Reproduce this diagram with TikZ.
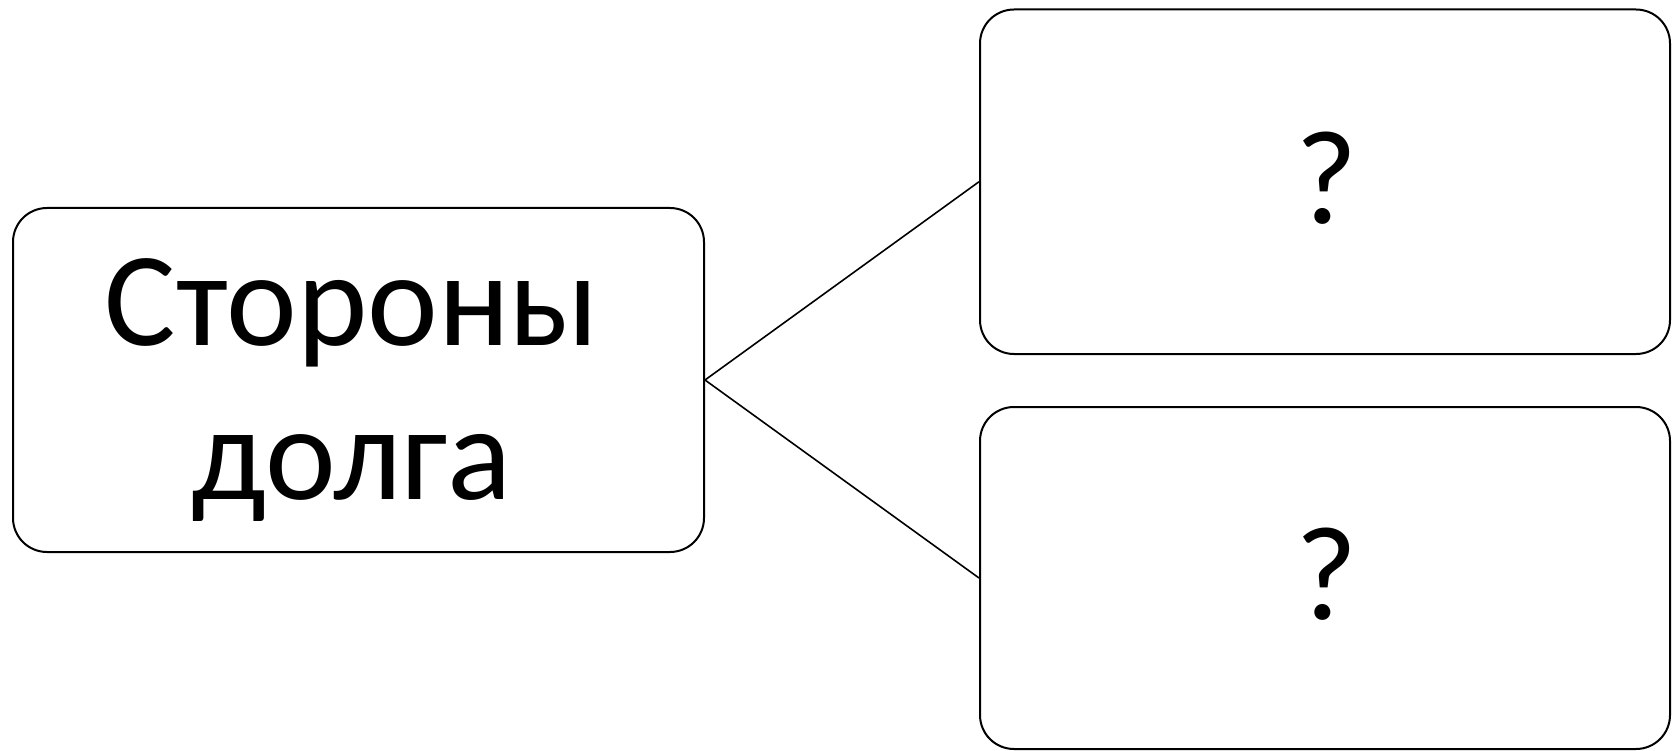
\documentclass[tikz,border=0pt]{standalone}
\usepackage{fontspec}
\setmainfont{Carlito}
\begin{document}
\begin{tikzpicture}[x=1pt,y=-1pt,
  box/.style={draw,line width=2pt,rounded corners=34pt,inner sep=0pt},
  txt/.style={inner sep=0pt,align=center,font=\fontsize{134}{154}\selectfont},
  link/.style={line width=1.6pt}]
\useasboundingbox (0,0) rectangle (1675,751);
\node[box, minimum width=691pt, minimum height=344pt] (src) at (358.5,380) {};
\node[txt] (srctext) at (352,390) {Стороны\\долга};
\node[box, minimum width=690pt, minimum height=344.5pt] (q1) at (1325,181.75) {};
\node[txt] (q1text) at (1327,178) {?};
\node[box, minimum width=690pt, minimum height=342pt] (q2) at (1325,578) {};
\node[txt] (q2text) at (1327,574) {?};
\draw[link] (src.east) -- (q1.west);
\draw[link] (src.east) -- (q2.west);
\end{tikzpicture}
\end{document}
